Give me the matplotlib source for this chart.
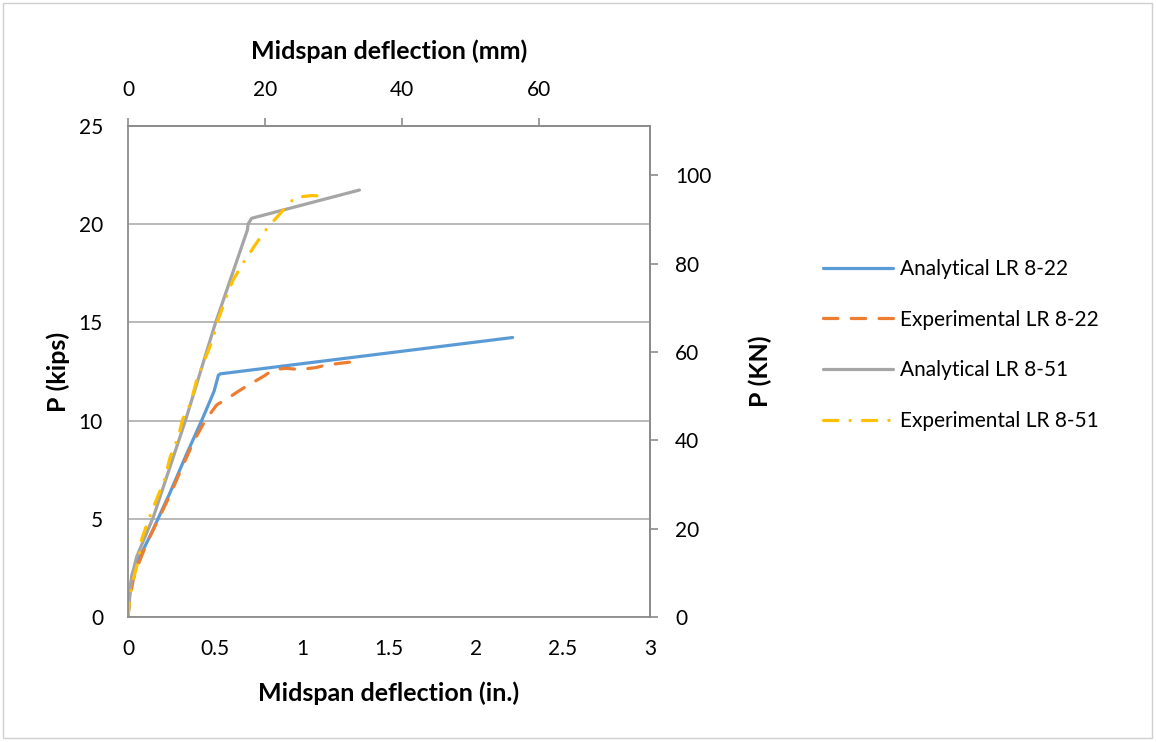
import matplotlib
matplotlib.use('Agg')
import matplotlib.pyplot as plt
from matplotlib.patches import Rectangle

plt.rcParams['font.family'] = ['Lato', 'DejaVu Sans']

# ---- data (deflection in inches, load in kips) ----
a22_x = [0.0, 0.015, 0.025, 0.07, 0.136, 0.24, 0.337, 0.433, 0.495, 0.51, 0.519, 0.53, 2.21]
a22_p = [0.0, 1.6, 2.2, 3.1, 4.3, 6.3, 8.3, 10.2, 11.5, 12.0, 12.3, 12.38, 14.23]

e22_x = [0.0, 0.01, 0.03, 0.06, 0.107, 0.165, 0.241, 0.30, 0.375, 0.443, 0.51, 0.567,
         0.653, 0.787, 0.835, 0.91, 0.99, 1.08, 1.14, 1.22, 1.30]
e22_p = [0.0, 0.9, 1.9, 2.7, 3.75, 4.8, 6.2, 7.4, 8.9, 10.0, 10.8, 11.1,
         11.6, 12.3, 12.6, 12.66, 12.6, 12.7, 12.83, 12.92, 13.0]

a51_x = [0.0, 0.01, 0.021, 0.05, 0.146, 0.33, 0.5, 0.686, 0.69, 0.71, 1.33]
a51_p = [0.0, 1.2, 2.05, 3.07, 5.1, 10.0, 14.9, 19.7, 20.0, 20.3, 21.74]

e51_x = [0.0, 0.01, 0.03, 0.06, 0.08, 0.12, 0.165, 0.21, 0.241, 0.29, 0.314, 0.36, 0.395,
         0.45, 0.49, 0.52, 0.60, 0.667, 0.735, 0.80, 0.88, 0.96, 1.05, 1.11]
e51_p = [0.0, 1.0, 1.9, 2.9, 4.0, 5.0, 6.0, 7.0, 8.1, 9.2, 10.07, 10.9, 12.07,
         13.3, 14.2, 15.2, 17.1, 18.1, 19.0, 19.8, 20.6, 21.37, 21.45, 21.45]

x_ticks = [0, 0.5, 1, 1.5, 2, 2.5, 3]
x_ticklabels = ['0', '0.5', '1', '1.5', '2', '2.5', '3']
y_ticks = [0, 5, 10, 15, 20, 25]
mm_ticks = [0, 20, 40, 60]
kn_ticks = [0, 20, 40, 60, 80, 100]

labels = ['Analytical LR 8-22', 'Experimental LR 8-22', 'Analytical LR 8-51', 'Experimental LR 8-51']

W, H = 1156, 742
fig = plt.figure(figsize=(W / 100, H / 100), dpi=100)
ax = fig.add_axes([128 / W, 1 - 617 / H, (650 - 128) / W, (617 - 126) / H])

LW = 2.3
ax.plot(a22_x, a22_p, color='#5B9BD5', lw=LW, label=labels[0],
        solid_capstyle='round', solid_joinstyle='round')
ax.plot(e22_x, e22_p, color='#ED7D31', lw=LW, ls=(0, (4.5, 4.2)), label=labels[1],
        dash_capstyle='round', dash_joinstyle='round')
ax.plot(a51_x, a51_p, color='#A5A5A5', lw=LW, label=labels[2],
        solid_capstyle='round', solid_joinstyle='round')
ax.plot(e51_x, e51_p, color='#FFC000', lw=LW, ls=(0, (4.5, 3.8, 0.05, 3.8)), label=labels[3],
        dash_capstyle='round', dash_joinstyle='round')

TICK_FS = 15
TITLE_FS = 18

ax.set_xlim(0, 3)
ax.set_ylim(0, 25)
ax.set_xticks(x_ticks)
ax.set_xticklabels(x_ticklabels)
ax.set_yticks(y_ticks)
ax.grid(axis='y', color='#A6A6A6', lw=1.1)
ax.set_axisbelow(True)
SPC = '#8C8C8C'
for s in ax.spines.values():
    s.set_color(SPC)
    s.set_linewidth(1.3)
ax.tick_params(axis='x', length=0, labelsize=TICK_FS, pad=16)
ax.tick_params(axis='y', length=0, labelsize=TICK_FS, pad=18)
ax.set_xlabel('Midspan deflection (in.)', fontsize=TITLE_FS, fontweight='bold', labelpad=16)
ax.set_ylabel('P (kips)', fontsize=TITLE_FS, fontweight='bold', labelpad=6)

top = ax.secondary_xaxis('top', functions=(lambda x: x * 25.4, lambda x: x / 25.4))
top.set_xticks(mm_ticks)
top.tick_params(length=6, width=1.2, color=SPC, labelsize=TICK_FS, pad=13)
top.spines['top'].set_color(SPC)
top.spines['top'].set_linewidth(1.3)
top.set_xlabel('Midspan deflection (mm)', fontsize=TITLE_FS, fontweight='bold', labelpad=15)

right = ax.secondary_yaxis('right', functions=(lambda p: p * 4.448, lambda p: p / 4.448))
right.set_yticks(kn_ticks)
right.tick_params(length=6, width=1.2, color=SPC, labelsize=TICK_FS, pad=12)
right.spines['right'].set_color(SPC)
right.spines['right'].set_linewidth(1.3)
right.set_ylabel('P (KN)', fontsize=TITLE_FS, fontweight='bold', labelpad=27)

handles, labs = ax.get_legend_handles_labels()
fig.legend(handles, labs, loc='center left', bbox_to_anchor=(823 / W, 1 - 345 / H),
           frameon=False, fontsize=15, handlelength=3.37, handletextpad=0.33,
           labelspacing=1.47, borderpad=0, borderaxespad=0)

fig.patches.append(Rectangle((3 / W, 4 / H), (1152 - 3) / W, (738 - 3) / H,
                             transform=fig.transFigure, fill=False,
                             edgecolor='#D0D0D0', lw=1))

fig.savefig('out.png', dpi=100)
